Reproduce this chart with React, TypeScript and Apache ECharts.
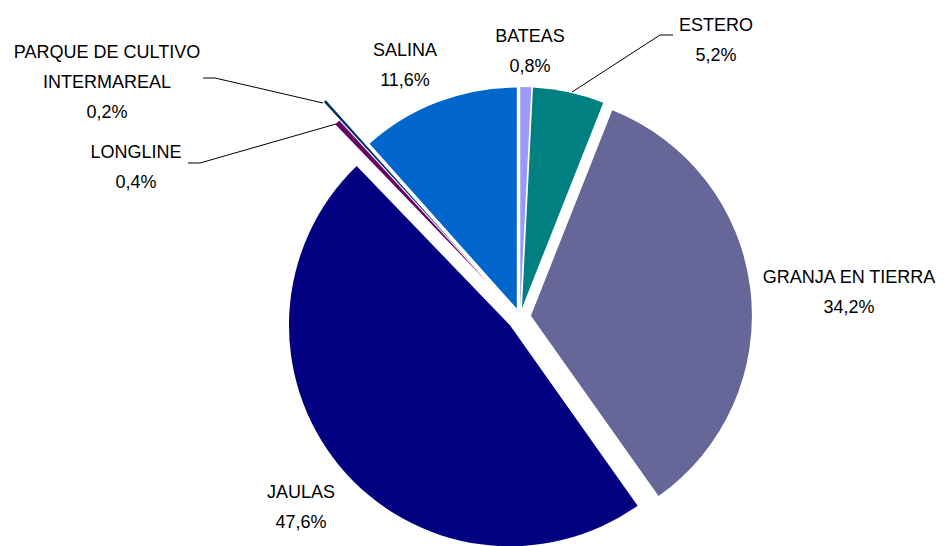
import React, { useEffect, useRef } from "react";
import * as echarts from "echarts";

// ---- data ----
const categories = [
  "BATEAS",
  "ESTERO",
  "GRANJA EN TIERRA",
  "JAULAS",
  "LONGLINE",
  "PARQUE DE CULTIVO\nINTERMAREAL",
  "SALINA",
];
const shares = [0.8, 5.2, 34.2, 47.6, 0.4, 0.2, 11.6];

// ---- styling ----
const sliceColors = ["#9999FF", "#008080", "#666699", "#000080", "#660066", "#003366", "#0066CC"];
const explode = [9, 9, 11, 13, 46, 70, 9];
const labelSpots: { x: number; y: number; line?: number[][] }[] = [
  { x: 530, y: 51 },
  { x: 716, y: 40, line: [[572, 92], [660, 35], [673, 35]] },
  { x: 849, y: 292 },
  { x: 301, y: 507 },
  { x: 136, y: 167, line: [[336, 124], [200, 163], [188, 163]] },
  { x: 107, y: 82, line: [[323, 103], [215, 78], [203, 78]] },
  { x: 405, y: 65 },
];
const CX = 520;
const CY = 317;
const R = 221;
const FONT = "'Liberation Sans', Arial, sans-serif";

function fmt(v: number) {
  return v.toFixed(1).replace(".", ",") + "%";
}

export default function App() {
  const ref = useRef<HTMLDivElement>(null);
  useEffect(() => {
    if (!ref.current) return;
    const chart = echarts.init(ref.current, undefined, { renderer: "svg" });
    const total = shares.reduce((a, b) => a + b, 0);
    let acc = 0;
    const series = categories.map((_, i) => {
      const mid = ((acc + shares[i] / 2) / total) * Math.PI * 2;
      acc += shares[i];
      const cx = CX + explode[i] * Math.sin(mid);
      const cy = CY - explode[i] * Math.cos(mid);
      return {
        type: "pie",
        center: [cx, cy],
        radius: R,
        startAngle: 90,
        clockwise: true,
        avoidLabelOverlap: false,
        silent: true,
        emphasis: { disabled: true },
        z: 2,
        data: categories.map((name, j) => ({
          name,
          value: shares[j],
          itemStyle: { color: j === i ? sliceColors[j] : "rgba(0,0,0,0)" },
          label: { show: j === i },
          labelLine: { show: j === i && !!labelSpots[j].line },
        })),
        label: {
          position: "outside",
          formatter: (p: any) => `${p.name}\n${fmt(p.value)}`,
          fontFamily: FONT,
          fontSize: 18,
          lineHeight: 30,
          color: "#000",
          align: "center",
        },
        labelLine: { length: 10, length2: 10, lineStyle: { color: "#000", width: 1 } },
        labelLayout: (p: any) => {
          const s = labelSpots[p.dataIndex];
          const o: any = { x: s.x, y: s.y, align: "center", verticalAlign: "middle" };
          if (s.line) o.labelLinePoints = s.line;
          return o;
        },
      };
    });
    chart.setOption({
      animation: false,
      backgroundColor: "#ffffff",
      series,
    } as any);
    return () => chart.dispose();
  }, []);
  return (
    <div
      ref={ref}
      style={{ position: "absolute", left: 0, top: 0, width: 948, height: 546 }}
    />
  );
}
